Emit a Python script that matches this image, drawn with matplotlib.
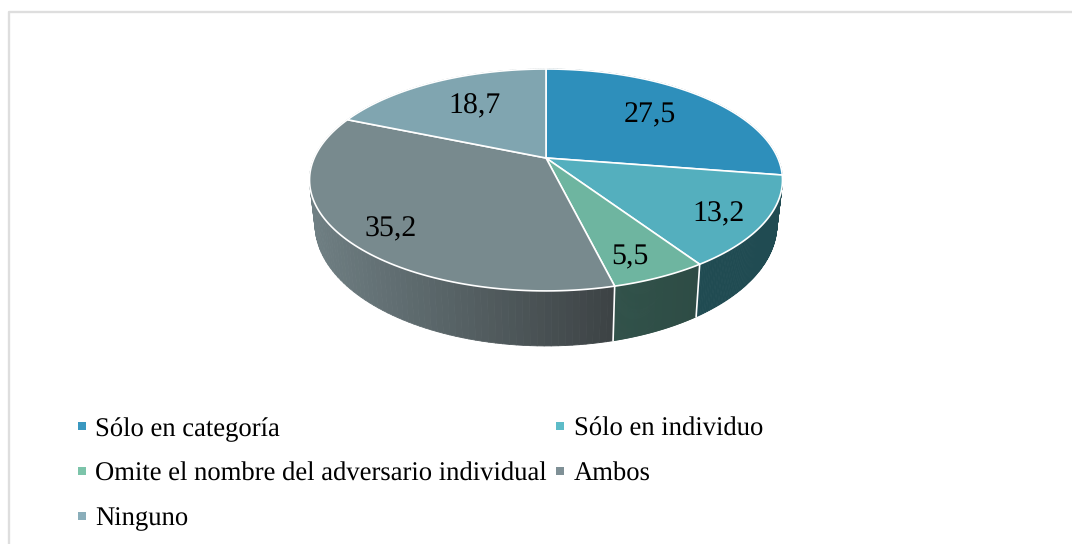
import numpy as np
import matplotlib
matplotlib.use("Agg")
import matplotlib.pyplot as plt
from matplotlib.collections import PolyCollection
from matplotlib.lines import Line2D
from matplotlib.path import Path
from matplotlib.transforms import Transform

categories = ["Sólo en categoría", "Sólo en individuo",
              "Omite el nombre del adversario individual", "Ambos", "Ninguno"]
values = [27.5, 13.2, 5.5, 35.2, 18.7]
value_labels = ["27,5", "13,2", "5,5", "35,2", "18,7"]

top_colors = ["#2e8fbb", "#54afbe", "#6eb5a0", "#788a8e", "#80a5b0"]
legend_colors = ["#3a98c0", "#5dbcc8", "#7cc4aa", "#7f9096", "#8aaeba"]
# side colours, left end and right end of every slice
side_colors = [("#1c4a5a", "#1c4a5a"), ("#204b52", "#204b52"), ("#31524a", "#2e4c45"),
               ("#6f7f83", "#3d4345"), ("#6f7f83", "#6f7f83")]

plt.rcParams["font.family"] = ["Liberation Serif", "DejaVu Serif"]
plt.rcParams["text.hinting"] = "no_hinting"

# pie is seen in perspective: near edge bigger than far edge
k = 0.198
cx = 546.0
top_y, top_a, top_b = 158.0, 106.6, 231.8
low_y, low_a, low_b = 200.3, 116.8, 226.4


def project(u, v, low=False):
    w = 1 + k * v
    if low:
        return cx + low_b * u / w, low_y - low_a * v / w
    return cx + top_b * u / w, top_y - top_a * v / w


class Tilt(Transform):
    input_dims = 2
    output_dims = 2
    is_separable = False

    def transform_non_affine(self, values):
        x, y = project(values[:, 0], values[:, 1])
        return np.column_stack([x, y])

    def transform_path_non_affine(self, path):
        # curves have to be flattened, a homography would bend them otherwise
        pts = []
        for bez, code in path.iter_bezier():
            pts.append(bez(np.linspace(0, 1, 24)))
        pts = self.transform_non_affine(np.vstack(pts))
        return Path(np.vstack([pts, pts[:1]]), closed=True)


fig = plt.figure(figsize=(10.72, 5.44), dpi=100)
ax = fig.add_axes([0, 0, 1, 1])

wedges, _ = ax.pie(values, colors=top_colors, startangle=90, counterclock=False,
                   wedgeprops={"edgecolor": "white", "linewidth": 1.2})
ax.set_aspect("auto")
ax.set_xlim(0, 1072)
ax.set_ylim(544, 0)
ax.axis("off")
tilt = Tilt()
for w in wedges:
    w.set_transform(tilt + ax.transData)
    w.set_zorder(3)

# the side wall of the disc
edges = np.cumsum([0] + values) / sum(values) * 2 * np.pi
for i in range(len(values)):
    t = np.linspace(edges[i], edges[i + 1], 90)
    u, v = np.sin(t), np.cos(t)
    x1, y1 = project(u, v)
    x2, y2 = project(u, v, low=True)
    quads = []
    cols = []
    c0 = np.array(matplotlib.colors.to_rgb(side_colors[i][0]))
    c1 = np.array(matplotlib.colors.to_rgb(side_colors[i][1]))
    xmin, xmax = min(x1.min(), x2.min()), max(x1.max(), x2.max())
    for j in range(len(t) - 1):
        quads.append([(x1[j], y1[j]), (x1[j + 1], y1[j + 1]), (x2[j + 1], y2[j + 1]), (x2[j], y2[j])])
        f = (x1[j] - xmin) / (xmax - xmin)
        cols.append(c0 + (c1 - c0) * f)
    ax.add_collection(PolyCollection(quads, facecolors=cols, edgecolors=cols, linewidths=0.6, zorder=1))
    if v[0] < -0.5:
        ax.plot([x1[0], x2[0]], [y1[0], y2[0]], color="white", lw=1.2, zorder=2)

label_xy = [(650, 115), (719, 214), (630, 257), (391, 229), (475, 106)]
for (lx, ly), s in zip(label_xy, value_labels):
    ax.text(lx, ly, s, fontsize=21.5, ha="center", va="center", color="black", zorder=5)

# only the top and left of the chart frame are inside the picture
ax.plot([8.5, 8.5, 1072], [544, 12.2, 12.2], color="#dedede", lw=1.7, zorder=0)

handles = [Line2D([], [], ls="none", marker="s", ms=5.8, mew=0, color=c) for c in legend_colors]
order = [0, 2, 4, 1, 3]
ax.legend([handles[i] for i in order], [categories[i] for i in order],
          ncol=2, frameon=False, fontsize=19.2, loc="upper left",
          bbox_to_anchor=(68.7 / 1072, 1 - 417 / 544), handletextpad=0.0,
          columnspacing=0.0, labelspacing=0.76, handlelength=1.0, borderpad=0, borderaxespad=0)

fig.savefig("out.png", dpi=100)
